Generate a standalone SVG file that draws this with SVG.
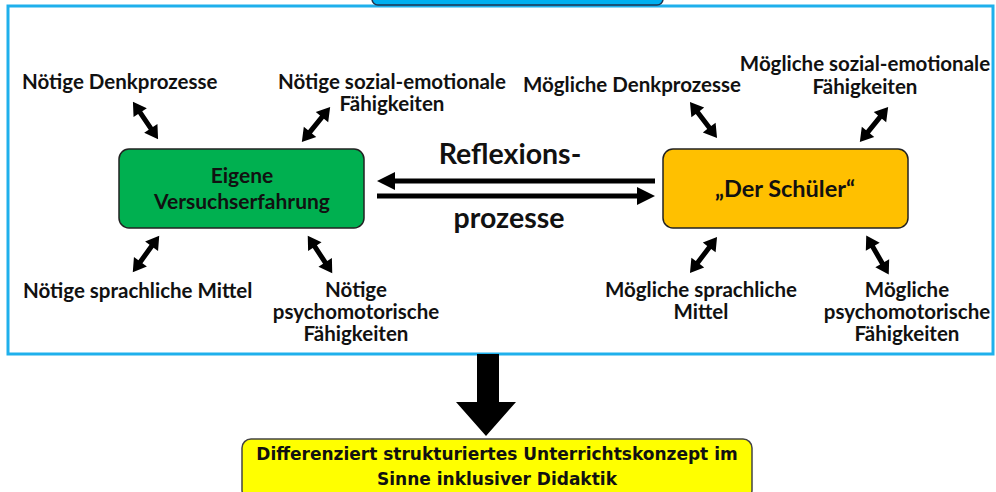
<svg xmlns="http://www.w3.org/2000/svg" width="996" height="492" viewBox="0 0 996 492">
<style>
.t{font-family:Lato,"Open Sans","Liberation Sans",sans-serif;font-weight:bold;fill:#111;font-size:20.5px}
.b{font-size:21px}
.s{font-size:23.5px}
.r{font-size:28.5px}
.c{text-anchor:middle}
.y{font-family:"DejaVu Sans","Liberation Sans",sans-serif;font-weight:bold;fill:#111;font-size:17px;text-anchor:middle}
.da{fill:#000}
</style>
<defs>
<path id="dbl" d="M-22.5,0 L-9.5,-8 L-9.5,-2.5 L9.5,-2.5 L9.5,-8 L22.5,0 L9.5,8 L9.5,2.5 L-9.5,2.5 L-9.5,8 Z"/>
</defs>
<rect width="996" height="492" fill="#fff"/>
<g id="frame">
<rect x="8" y="6" width="985" height="348" fill="#fff" stroke="#1fb0ec" stroke-width="3"/>
</g>
<g id="topbox">
<rect x="372" y="-20" width="291" height="25" rx="6" fill="#00b0f0" stroke="#1f3550" stroke-width="1.5"/>
</g>
<g id="node-eigene">
<rect x="119" y="149" width="245" height="79" rx="10" fill="#00b050" stroke="#222" stroke-width="1.5"/>
<text class="t b c" x="242" y="183">Eigene</text>
<text class="t b c" x="242" y="209">Versuchserfahrung</text>
</g>
<g id="node-schueler">
<rect x="663" y="149" width="245" height="79" rx="10" fill="#ffc000" stroke="#222" stroke-width="1.5"/>
<text class="t s c" x="785" y="197">„Der Schüler“</text>
</g>
<g id="label-reflexion">
<text class="t r c" x="510" y="164">Reflexions-</text>
<text class="t r c" x="509" y="228">prozesse</text>
</g>
<g id="n-denk"><text class="t" x="22" y="89">Nötige Denkprozesse</text></g>
<g id="n-sozial"><text class="t c" x="392" y="89">Nötige sozial-emotionale</text><text class="t c" x="392" y="111">Fähigkeiten</text></g>
<g id="n-sprach"><text class="t" x="23" y="298">Nötige sprachliche Mittel</text></g>
<g id="n-psycho"><text class="t c" x="356" y="297">Nötige</text><text class="t c" x="356" y="319">psychomotorische</text><text class="t c" x="356" y="341">Fähigkeiten</text></g>
<g id="m-denk"><text class="t c" x="632" y="92">Mögliche Denkprozesse</text></g>
<g id="m-sozial"><text class="t c" x="865" y="71">Mögliche sozial-emotionale</text><text class="t c" x="865" y="94">Fähigkeiten</text></g>
<g id="m-sprach"><text class="t c" x="701" y="297">Mögliche sprachliche</text><text class="t c" x="701" y="319">Mittel</text></g>
<g id="m-psycho"><text class="t c" x="907" y="297">Mögliche</text><text class="t c" x="907" y="319">psychomotorische</text><text class="t c" x="907" y="341">Fähigkeiten</text></g>
<g id="node-result">
<rect x="242" y="439" width="510" height="60" rx="9" fill="#ffff00" stroke="#444" stroke-width="1.5"/>
<text class="y" x="497" y="460">Differenziert strukturiertes Unterrichtskonzept im</text>
<text class="y" x="497" y="485">Sinne inklusiver Didaktik</text>
</g>
<g id="connectors">
<path class="da" d="M377,181 L395,172 L395,178.5 L655,178.5 L655,183.5 L395,183.5 L395,190 Z"/>
<path class="da" d="M655,196 L637,187 L637,193.5 L377,193.5 L377,198.5 L637,198.5 L637,205 Z"/>
<use href="#dbl" class="da" transform="translate(145.5,120.5) rotate(56)"/>
<use href="#dbl" class="da" transform="translate(316,124.5) rotate(-51)"/>
<use href="#dbl" class="da" transform="translate(146,254) rotate(-54)"/>
<use href="#dbl" class="da" transform="translate(320,254.5) rotate(57)"/>
<use href="#dbl" class="da" transform="translate(703.5,120) rotate(53)"/>
<use href="#dbl" class="da" transform="translate(874,124.5) rotate(-51)"/>
<use href="#dbl" class="da" transform="translate(703.5,255) rotate(-53)"/>
<use href="#dbl" class="da" transform="translate(877.5,255) rotate(60)"/>
<path class="da" d="M477,354 L499,354 L499,402 L516,402 L486,436 L456,402 L477,402 Z"/>
</g>
</svg>
